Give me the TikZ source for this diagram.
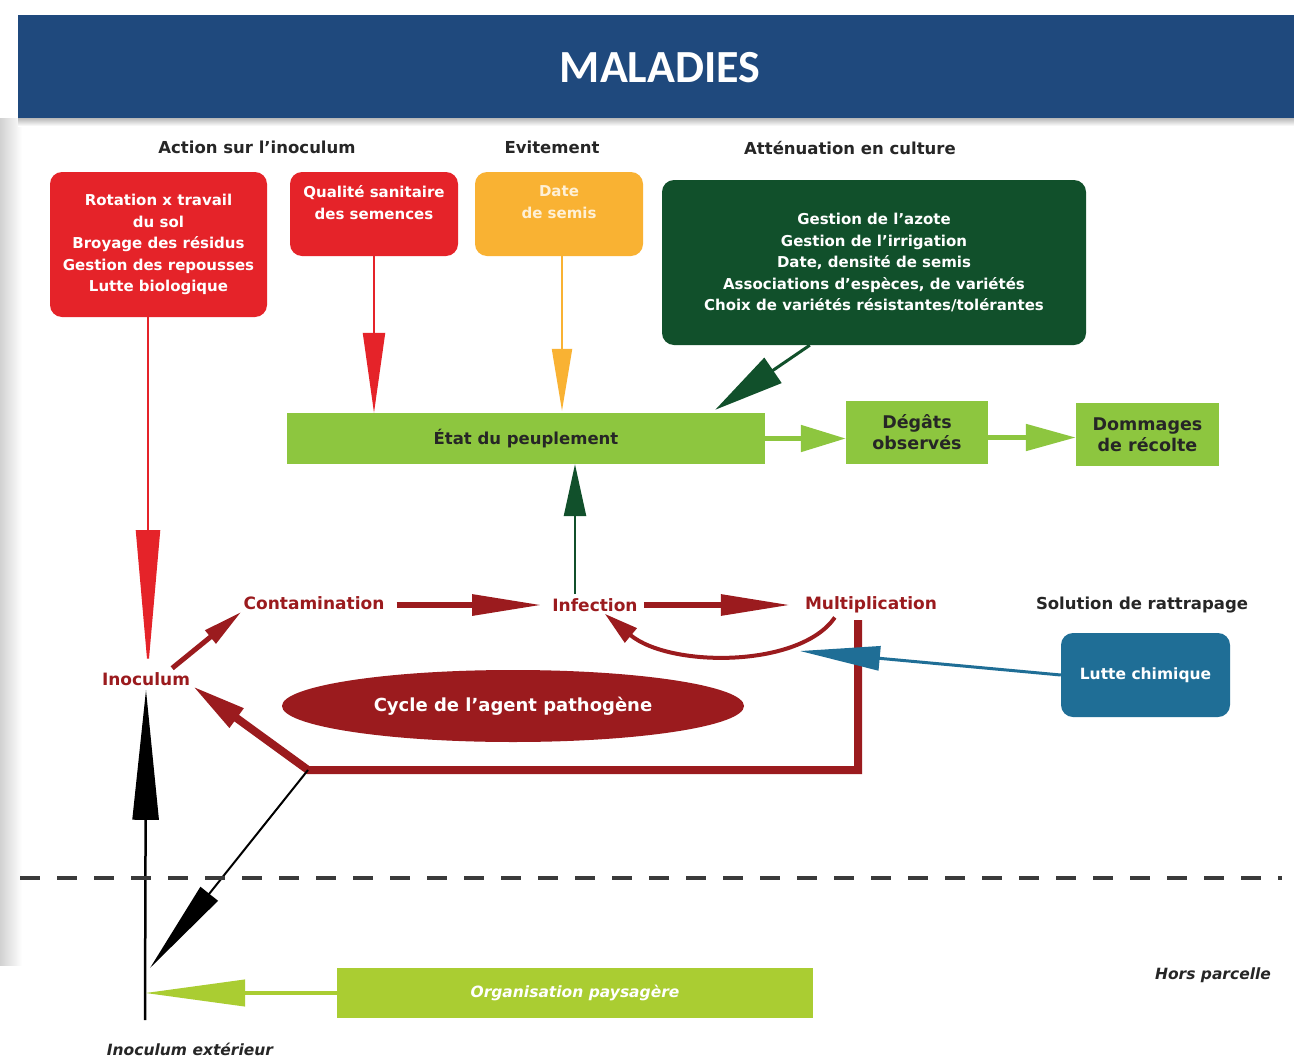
\documentclass[tikz,border=0pt]{standalone}
\usepackage{fontspec}
\setmainfont{DejaVu Sans}
\newfontfamily\titlefont{Carlito}
\usetikzlibrary{arrows.meta,shapes.geometric,calc}
\definecolor{banner}{HTML}{1F497D}
\definecolor{boxred}{HTML}{E52329}
\definecolor{boxorange}{HTML}{F9B233}
\definecolor{darkgreen}{HTML}{11502B}
\definecolor{lightgreen}{HTML}{8DC63F}
\definecolor{darkred}{HTML}{9B1B1E}
\definecolor{boxblue}{HTML}{1F6E96}
\definecolor{lime}{HTML}{AACD32}
\definecolor{dashgray}{HTML}{3A3A3A}
\begin{document}
\begin{tikzpicture}[x=1pt,y=-1pt,
  tbox/.style={rounded corners=12pt, text=white, align=center, inner sep=0pt,
    font=\fontsize{15}{21.5}\selectfont\bfseries},
  gbox/.style={fill=lightgreen, text=black!85, align=center, inner sep=0pt,
    font=\fontsize{17.5}{21}\selectfont\bfseries},
  hdr/.style={font=\fontsize{16.5}{19}\selectfont\bfseries, text=black!85},
  cyc/.style={font=\fontsize{17}{20}\selectfont\bfseries, text=darkred, inner sep=2pt},
  itl/.style={font=\fontsize{15.5}{19}\selectfont\bfseries\itshape, text=black!85}
]
\useasboundingbox (0,0) rectangle (1294,1063);
\fill[white] (0,0) rectangle (1294,1063);
% left edge shading and banner shadow
\shade[left color=black!18, right color=white] (0,118) rectangle (22,965);
\shade[top color=black!35, bottom color=white] (18,116) rectangle (1294,126);
% banner
\fill[banner] (18,15) rectangle (1294,118);
\node[text=white, font=\titlefont\fontsize{46}{50}\selectfont\bfseries] (title) at (660,68) {MALADIES};

% headings
\node[hdr] (h1) at (257,147) {Action sur l'inoculum};
\node[hdr] (h2) at (552,147) {Evitement};
\node[hdr] (h3) at (850,148) {Atténuation en culture};
\node[hdr] (h4) at (1142,605) {Solution de rattrapage};

% top boxes
\node[tbox, fill=boxred, minimum width=217, minimum height=145] (r1) at (158.5,244.5)
  {Rotation x travail\\du sol\\Broyage des résidus\\Gestion des repousses\\Lutte biologique};
\node[tbox, fill=boxred, minimum width=168, minimum height=84] (r2) at (374,214)
  {Qualité sanitaire\\des semences\\[2pt]};
\node[tbox, fill=boxorange, text=white!80!boxorange, minimum width=168, minimum height=84] (o) at (559,214)
  {Date\\de semis\\[2pt]};
\node[tbox, fill=darkgreen, minimum width=424, minimum height=165] (g) at (874,262.5)
  {Gestion de l'azote\\Gestion de l'irrigation\\Date, densité de semis\\Associations d'espèces, de variétés\\Choix de variétés résistantes/tolérantes};

% green chain
\node[gbox, minimum width=478, minimum height=51, font=\fontsize{16.5}{21}\selectfont\bfseries] (etat) at (526,438.5) {État du peuplement};
\node[gbox, minimum width=142, minimum height=63] (deg) at (917,432.5) {Dégâts\\observés};
\node[gbox, minimum width=143, minimum height=63] (dom) at (1147.5,434.5) {Dommages\\de récolte};

% cycle labels
\node[cyc] (cont) at (314,603) {Contamination};
\node[cyc] (inf) at (595,605) {Infection};
\node[cyc] (mult) at (871,605) {Multiplication};
\node[cyc] (inoc) at (146,679) {Inoculum};
\node[ellipse, fill=darkred, text=white, minimum width=462, minimum height=72, inner sep=0pt,
  font=\fontsize{18}{22}\selectfont\bfseries] (cycle) at (513,706) {Cycle de l'agent pathogène};

% blue box
\node[tbox, fill=boxblue, minimum width=169, minimum height=84, font=\fontsize{15.5}{19}\selectfont\bfseries] (chem) at (1145.5,675) {Lutte chimique};

% organisation
\node[fill=lime, text=white, minimum width=476, minimum height=50, inner sep=0pt,
  font=\fontsize{15.5}{20}\selectfont\bfseries\itshape] (org) at (575,993) {Organisation paysagère};
\node[itl] (hors) at (1213,975) {Hors parcelle};
\node[itl] (ext) at (190,1049) {Inoculum extérieur};

% coordinates
\coordinate (mr) at (858,620);
\coordinate (c1) at (858,770);
\coordinate (c2) at (308,770);
\coordinate (meet) at (150,968);
\coordinate (vbot) at (145,1020);
\coordinate (curvept) at (800,651);
\coordinate (dl) at (20,878);
\coordinate (dr) at (1282,878);

% arrows from top boxes
\draw[boxred, line width=2, -{Triangle[length=80pt,width=22pt]}] (r2.south) -- (r2.south |- etat.north);
\draw[boxorange, line width=2, -{Triangle[length=62pt,width=20pt]}] ($(o.south)+(3,0)$) -- ($(o.south |- etat.north)+(3,-2)$);
\draw[darkgreen, line width=3, -{Triangle[length=70pt,width=30pt]}] ($(g.south west)+(148,0)$) -- ($(etat.north east)+(-50,-3)$);
\draw[boxred, line width=2, -{Triangle[length=140pt,width=24pt]}] ($(r1.south)+(-10.5,0)$) -- ($(inoc.north)+(2,0)$);

% green chain arrows
\draw[lightgreen, line width=5, -{Triangle[length=45pt,width=26pt]}] (etat.east) -- (etat.east -| deg.west);
\draw[lightgreen, line width=5, -{Triangle[length=50pt,width=26pt]}] ($(deg.east)+(0,5)$) -- ($(deg.east -| dom.west)+(0,5)$);
\draw[darkgreen, line width=2.5, -{Triangle[length=52pt,width=22pt]}] ($(inf.north)+(-20,-2)$) -- ($(etat.south)+(49,0)$);

% cycle arrows
\draw[darkred, line width=6, -{Triangle[length=70pt,width=20pt]}] ($(cont.east)+(10,2)$) -- ($(inf.west)+(-8,0)$);
\draw[darkred, line width=6, -{Triangle[length=70pt,width=20pt]}] ($(inf.east)+(4,0)$) -- ($(mult.west)+(-12,0)$);
\draw[darkred, line width=5, -{Triangle[length=40pt,width=16pt]}] ($(inoc.north east)+(-20,-2)$) -- ($(cont.south west)+(0,0)$);
\draw[darkred, line width=4, -{Triangle[length=34pt,width=18pt]}] ($(mult.south west)+(32,2)$) .. controls (800,668) and (670,668) .. ($(inf.south east)+(-35,0)$);
\draw[darkred, line width=8, line join=miter, -{Triangle[length=55pt,width=22pt]}] (mr) -- (c1) -- (c2) -- ($(inoc.south east)+(0,-2)$);

% blue arrow
\draw[boxblue, line width=3, -{Triangle[length=80pt,width=24pt]}] (chem.west) -- (curvept);

% black arrows
\draw[black, line width=2, -{Triangle[length=95pt,width=22pt]}] (c2) -- (meet);
\draw[black, line width=2.5, -{Triangle[length=130pt,width=26pt]}] (vbot) -- ($(inoc.south)+(0,2)$);

% dashed line
\draw[dashgray, line width=4, dash pattern=on 20pt off 17pt] (dl) -- (dr);

% organisation arrow
\draw[lime, line width=4, -{Triangle[length=100pt,width=26pt]}] (org.west) -- (org.west -| vbot);
\end{tikzpicture}
\end{document}
